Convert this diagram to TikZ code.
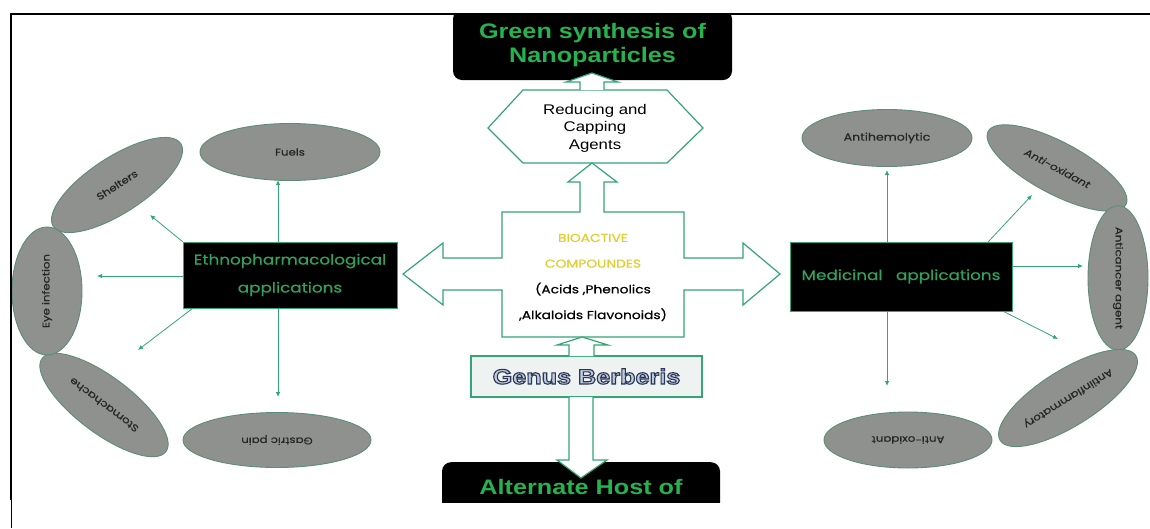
\documentclass[tikz,border=0pt]{standalone}
\usepackage{fontspec}
\usetikzlibrary{shapes.geometric,arrows.meta,calc}
\newfontfamily\popfont[FakeStretch=1.2,FakeBold=0.6]{Poppins}
\newfontfamily\popit[FakeStretch=1.2,FakeSlant=0.2,FakeBold=0.6]{Poppins}
\newfontfamily\libfont[FakeStretch=1.2]{Liberation Sans}
\newfontfamily\libbold[FakeStretch=1.2]{Liberation Sans Bold}
\definecolor{lgreen}{RGB}{52,165,118}
\definecolor{tgreen}{RGB}{38,178,78}
\definecolor{bgreen}{RGB}{48,162,92}
\definecolor{yel}{RGB}{226,206,48}
\definecolor{ellfill}{RGB}{143,145,143}
\definecolor{elldraw}{RGB}{92,140,122}
\definecolor{genfill}{RGB}{238,242,240}
\definecolor{gentext}{RGB}{190,202,222}
\newcommand{\outlinetext}[1]{\special{pdf:literal direct 2 Tr 1.1 w 0.17 0.21 0.34 RG}#1\special{pdf:literal direct 0 Tr 0.4 w}}
\tikzset{
  ell/.style={ellipse, draw=elldraw, fill=ellfill, line width=0.9pt, inner sep=0pt,
    font=\popfont\fontsize{9.8}{11}\selectfont, text={black!85}},
  blackbox/.style={draw=lgreen, fill=black, line width=0.6pt, inner sep=0pt, align=center,
    text=bgreen, font=\popfont\fontsize{14}{28}\selectfont},
  titlebox/.style={fill=black, rounded corners=9pt, inner sep=0pt, align=center,
    text=tgreen, font=\libbold\fontsize{21}{24}\selectfont},
  conn/.style={draw=lgreen, line width=0.8pt, -{Latex[length=5pt,width=4.5pt]}},
  blockarrow/.style={draw=lgreen, fill=white, line width=1.2pt, line join=miter},
}
\begin{document}
\begin{tikzpicture}[x=1pt,y=-1pt]
\useasboundingbox[fill=white] (0,0) rectangle (1150,528);

% ---- left ellipses
\node[ell, minimum width=180, minimum height=57] (fuels) at (290,152) {Fuels};
\node[ell, minimum width=152, minimum height=56, rotate=33] (shel) at (117,185) {Shelters};
\node[ell, minimum width=155, minimum height=56, rotate=143] (stom) at (104,405) {Stomachache};
\node[ell, minimum width=128, minimum height=70, rotate=90] (eye) at (47,291) {Eye infection};
\node[ell, minimum width=188, minimum height=55, rotate=180] (gas) at (277,440) {Gastric pain};

% ---- right ellipses
\node[ell, minimum width=170, minimum height=57, font=\popfont\fontsize{10.5}{12}\selectfont] (hemo) at (887,138) {Antihemolytic};
\node[ell, minimum width=156, minimum height=52, rotate=-28, font=\popit\fontsize{9.8}{11}\selectfont] (oxa) at (1057,168) {Anti-oxidant};
\node[ell, minimum width=134, minimum height=60, rotate=-90] (canc) at (1118,278) {Anticancer agent};
\node[ell, minimum width=160, minimum height=56, rotate=212] (infl) at (1068,398) {Antiinflammatory};
\node[ell, minimum width=168, minimum height=56, rotate=180] (oxb) at (908,440) {Anti-oxidant};

% ---- black boxes
\node[blackbox, minimum width=214, minimum height=66] (eth) at (290,275) {Ethnopharmacological\\applications};
\node[blackbox, minimum width=222, minimum height=69] (med) at (901,276.5) {Medicinal\hspace{9pt} applications};

% ---- thin connectors (left)
\coordinate (tFuel) at (278,180);
\coordinate (tShel) at (150,215);
\coordinate (tEye) at (97,276);
\coordinate (tStom) at (138,350);
\coordinate (tGas) at (278,397);
\draw[conn] (eth.north -| tFuel) -- (tFuel);
\draw[conn] (eth.north west) -- (tShel);
\draw[conn] (eth.west |- tEye) -- (tEye);
\draw[conn] ($(eth.south west)+(10,0)$) -- (tStom);
\draw[conn] (eth.south -| tGas) -- (tGas);

% ---- thin connectors (right)
\coordinate (tHemo) at (887,170);
\coordinate (tOxa) at (1032,195);
\coordinate (tCanc) at (1083,266);
\coordinate (tInfl) at (1058,339);
\coordinate (tOxb) at (887,386);
\draw[conn] (med.north -| tHemo) -- (tHemo);
\draw[conn] ($(med.north east)+(-24,0)$) -- (tOxa);
\draw[conn] (med.east |- tCanc) -- (tCanc);
\draw[conn] ($(med.south east)+(-9,0)$) -- (tInfl);
\draw[conn] (med.south -| tOxb) -- (tOxb);

% ---- title boxes (clipped by the frame)
\begin{scope}
\clip (0,14) rectangle (1150,502);
\node[titlebox, minimum width=279, minimum height=70] (green) at (592.5,45) {Green synthesis of\\Nanoparticles};
\node[titlebox, minimum width=278, minimum height=70, anchor=north] (hostbox) at (581,462) {};
\node[text=tgreen, font=\libbold\fontsize{21}{24}\selectfont] (host) at (581,487) {Alternate Host of};
\end{scope}

% ---- hexagon
\draw[draw=lgreen, fill=white, line width=1.2pt] (488,128) -- (523,90) -- (667,90) -- (703,128) -- (667,163) -- (523,163) -- cycle;
\node[align=center, font=\libfont\fontsize{14}{17.5}\selectfont] (red) at (595,128) {Reducing and\\Capping\\Agents};

% ---- arrow into title box
\draw[blockarrow] (580,90) -- (580,82) -- (566,82) -- (592,73) -- (618,82) -- (604,82) -- (604,90);

% ---- central box with side arrows
\draw[blockarrow] (502,212) -- (580,212) -- (580,182) -- (568,182) -- (592,163) -- (617,182) -- (604,182) -- (604,212)
  -- (684,212) -- (684,258) -- (743,258) -- (743,243) -- (780,274) -- (743,305) -- (743,290) -- (684,290)
  -- (684,337) -- (502,337) -- (502,290) -- (443,290) -- (443,305) -- (403,274) -- (443,243) -- (443,258)
  -- (502,258) -- cycle;
\node[align=center, font=\popfont\fontsize{11.5}{25.7}\selectfont] (bio) at (593,277.5)
  {\textcolor{yel}{BIOACTIVE}\\\textcolor{yel}{COMPOUNDES}\\(Acids ,Phenolics\\,Alkaloids Flavonoids)};

% ---- genus box
\node[draw=lgreen, fill=genfill, line width=1.2pt, minimum width=231, minimum height=41, inner sep=0pt,
  font=\libbold\fontsize{21}{22}\selectfont, text=gentext] (genus) at (586.5,376.5) {\outlinetext{Genus Berberis}};
\draw[blockarrow] (569,356) -- (569,345) -- (557,345) -- (582,337) -- (608,345) -- (594,345) -- (594,356);
\draw[blockarrow] (569,397) -- (569,460) -- (557,460) -- (581,478) -- (607,460) -- (593,460) -- (593,397);

% ---- frame
\draw[line width=2pt] (10,14) -- (1150,14);
\draw[line width=2pt] (11,13) -- (11,500);
\draw[line width=0.8pt] (11,500) -- (11,528);
\end{tikzpicture}
\end{document}
